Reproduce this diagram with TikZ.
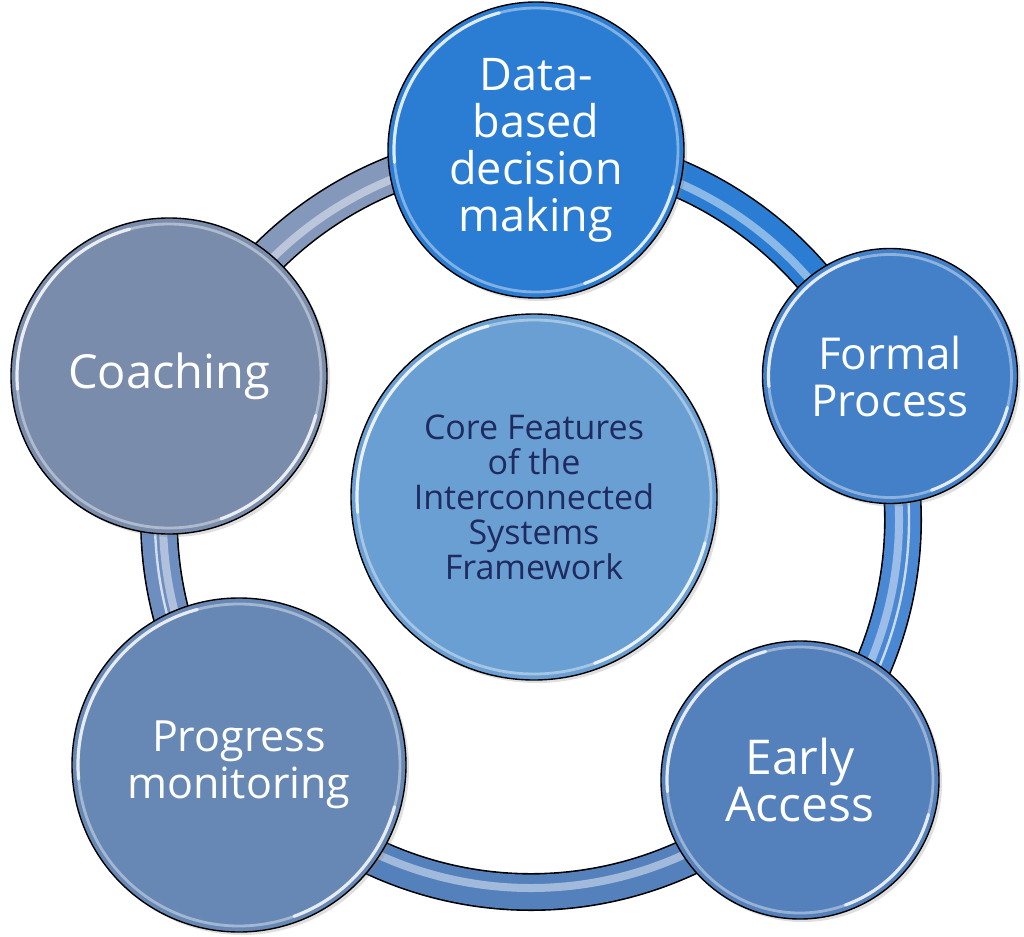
\documentclass[tikz,border=0pt]{standalone}
\usepackage{fontspec}
\setmainfont{Open Sans}
\usetikzlibrary{shadows}

\definecolor{topblue}{RGB}{43,125,211}
\definecolor{formalblue}{RGB}{67,128,200}
\definecolor{earlyblue}{RGB}{84,128,187}
\definecolor{progblue}{RGB}{103,136,180}
\definecolor{coachgray}{RGB}{122,140,171}
\definecolor{coreblue}{RGB}{106,159,211}
\definecolor{coretext}{RGB}{31,42,94}
\definecolor{ringgray}{RGB}{132,152,188}
\definecolor{ringslate}{RGB}{110,142,192}
\definecolor{ringblue}{RGB}{74,136,212}

\newcommand{\fsize}[1]{\fontsize{#1}{23.5}\selectfont}

\begin{document}
\begin{tikzpicture}[x=0.5pt,y=-0.5pt,
    feature/.style={circle,draw=black,line width=0.7pt,inner sep=0pt,align=center,
      text=white,font=\fsize{21.5},
      drop shadow={opacity=0.25,shadow xshift=1.5pt,shadow yshift=-1.5pt}},
    rim/.style={line width=1.4pt,white,opacity=0.4},
    glint/.style={line width=1.6pt,white,opacity=0.75,line cap=round}]
  \useasboundingbox (0,0) rectangle (1024,937);
  \coordinate (hub) at (531,520);
  % the ring, one colour per stretch between two circles
  \foreach \from/\to/\col in {-89/-22/topblue,-22/44/ringblue,44/140/earlyblue,140/202/ringslate,202/271/ringgray}{
    \draw[black,line width=19pt] (hub) ++(\from:372) arc[start angle=\from,end angle=\to,radius=372];
    \draw[\col,line width=17.4pt] (hub) ++(\from:372) arc[start angle=\from,end angle=\to,radius=372];
    \draw[\col!55!white,line width=4pt] (hub) ++(\from:368) arc[start angle=\from,end angle=\to,radius=368];
  }
  \draw[white,opacity=.7,line width=1.2pt] (hub) ++(-22:378) arc[start angle=-22,end angle=44,radius=378];
  \draw[white,opacity=.7,line width=1.2pt] (hub) ++(140:376) arc[start angle=140,end angle=202,radius=376];

  \node[feature,fill=topblue,minimum size=148pt,font=\fsize{22.5}] (datadec) at (536,150) {Data-\\based\\decision\\making};
  \node[feature,fill=formalblue,minimum size=127.5pt,font=\fsize{22}] (formal) at (890,376) {Formal\\Process};
  \node[feature,fill=earlyblue,minimum size=139pt,font=\fsize{24}] (early) at (800,780) {Early\\Access};
  \node[feature,fill=progblue,minimum size=167pt] (progress) at (239,765) {Progress\\monitoring};
  \node[feature,fill=coachgray,minimum size=158pt,font=\fsize{23.5}] (coaching) at (169,376) {Coaching};
  \node[feature,fill=coreblue,minimum size=183pt,text=coretext,
    font=\fontsize{17}{17.5}\selectfont] (core) at (534,497)
    {Core Features\\of the\\Interconnected\\Systems\\Framework};

  % bevel on each circle
  \foreach \n/\r in {datadec/148,formal/127.5,early/139,progress/167,coaching/158,core/183}{
    \draw[rim] (\n.center) circle[radius=\r-6];
    \draw[glint] (\n.center) ++(-105:\r-6) arc[start angle=-105,end angle=-185,radius=\r-6];
    \draw[glint] (\n.center) ++(15:\r-6) arc[start angle=15,end angle=70,radius=\r-6];
  }
\end{tikzpicture}
\end{document}
